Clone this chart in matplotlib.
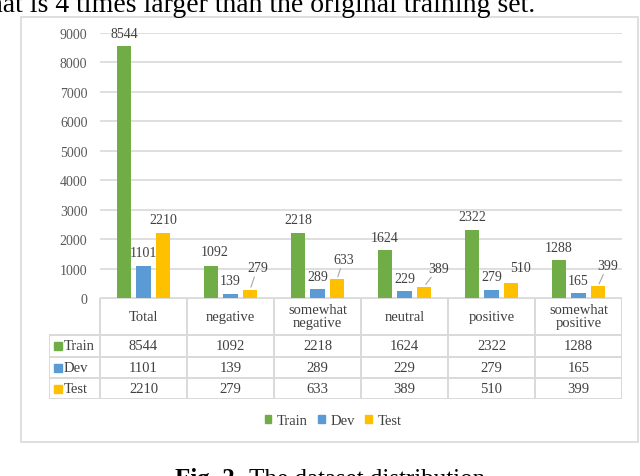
import numpy as np
import matplotlib
matplotlib.use("Agg")
import matplotlib.pyplot as plt
from matplotlib.patches import Patch, Rectangle

plt.rcParams['font.family'] = ['Liberation Serif', 'DejaVu Serif']

categories = ["Total", "negative", "somewhat\nnegative", "neutral", "positive", "somewhat\npositive"]
series = ["Train", "Dev", "Test"]
train = [8544, 1092, 2218, 1624, 2322, 1288]
dev = [1101, 139, 289, 229, 279, 165]
test = [2210, 279, 633, 389, 510, 399]
colors = ["#70AD47", "#5B9BD5", "#FFC000"]

# label nudges in pixels (dx, dy of label centre from bar top), and leader line flag
label_shift = {
    (0, 1): (4, 14, False),
    (2, 1): (7.5, 22, True),
    (2, 2): (6.5, 20, True),
    (2, 3): (14.5, 18.5, True),
    (2, 4): (9.5, 15, False),
    (2, 5): (9.5, 21, True),
}

W, H = 640, 477
fig = plt.figure(figsize=(6.4, 4.77), dpi=100)

def fx(px):
    return px / W

def fy(py):
    return 1 - py / H

# outer chart border
fig.add_artist(Rectangle((fx(21), fy(443)), fx(638) - fx(21), fy(18) - fy(443),
                         transform=fig.transFigure, fill=False, ec="#d9d9d9", lw=1.2))

ax = fig.add_axes([fx(100), fy(299), fx(622) - fx(100), fy(34) - fy(299)])
x = np.arange(len(categories))
offset = 19.5 / 87
width = 14.5 / 87
all_vals = [train, dev, test]
for s, (vals, c) in enumerate(zip(all_vals, colors)):
    ax.bar(x + (s - 1) * offset, vals, width, color=c, zorder=3)
    for i, v in enumerate(vals):
        dx, dy, leader = label_shift.get((s, i), (0, 13, False))
        kw = {}
        if leader:
            kw["arrowprops"] = dict(arrowstyle="-", color="#a6a6a6", lw=0.8,
                                    shrinkA=0, shrinkB=2)
        ax.annotate(str(v), (x[i] + (s - 1) * offset, v), xytext=(dx, dy),
                    textcoords="offset pixels", ha="center", va="center",
                    fontsize=10, color="#404040", **kw)

ax.set_xlim(-0.5, 5.5)
ax.set_ylim(0, 9000)
ax.set_yticks(range(0, 9001, 1000))
ax.set_xticks([])
ax.grid(axis="y", color="#d9d9d9", lw=1.2, zorder=0)
ax.tick_params(axis="y", length=0, pad=9, labelsize=10, labelcolor="#595959")
for sp in ax.spines.values():
    sp.set_visible(False)

# data table under the chart
left_ext = 51 / 87
tax = fig.add_axes([fx(49), fy(400), fx(622) - fx(49), fy(299) - fy(400)])
tax.set_xlim(-0.5 - left_ext, 5.5)
tax.set_ylim(101, 0)
tax.axis("off")
rows = [0, 37, 59, 80, 101]
lc = "#d9d9d9"
tax.plot([-0.5, 5.5], [0, 0], color=lc, lw=1.4)
for r in rows[1:]:
    tax.plot([-0.5 - left_ext, 5.5], [r, r], color=lc, lw=1.4)
for k in range(7):
    tax.plot([-0.5 + k, -0.5 + k], [0, 101], color=lc, lw=1.4)
tax.plot([-0.5 - left_ext] * 2, [37, 101], color=lc, lw=1.4)

for i, cat in enumerate(categories):
    tax.text(i, 18.5, cat, ha="center", va="center", fontsize=10.5,
             color="#404040", linespacing=1.0)
for r, (name, vals, c) in enumerate(zip(series, all_vals, colors)):
    yc = (rows[r + 1] + rows[r + 2]) / 2
    tax.plot(-0.5 - left_ext + 9 / 87, yc, marker="s", ms=5.5, color=c, ls="none")
    tax.text(-0.5 - left_ext + 15 / 87, yc, name, ha="left", va="center",
             fontsize=10.5, color="#404040")
    for i, v in enumerate(vals):
        tax.text(i, yc, str(v), ha="center", va="center", fontsize=10.5, color="#404040")

handles = [Patch(color=c, label=n) for n, c in zip(series, colors)]
fig.legend(handles=handles, loc="center", bbox_to_anchor=(fx(333), fy(422)), ncol=3,
           frameon=False, fontsize=10.5, handlelength=0.45, handleheight=0.45,
           handletextpad=0.4, columnspacing=0.7, labelcolor="#404040")

# surrounding paper text (cut by the crop)
fig.text(fx(-11), fy(12), "hat is 4 times larger than the original training set.",
         ha="left", va="baseline", fontsize=20, color="black")
fig.text(fx(175), fy(486), "Fig. 2.", ha="left", va="baseline", fontsize=18,
         fontweight="bold", color="black")
fig.text(fx(249), fy(486), "The dataset distribution", ha="left", va="baseline",
         fontsize=18, color="black")

fig.savefig("out.png", dpi=100)
